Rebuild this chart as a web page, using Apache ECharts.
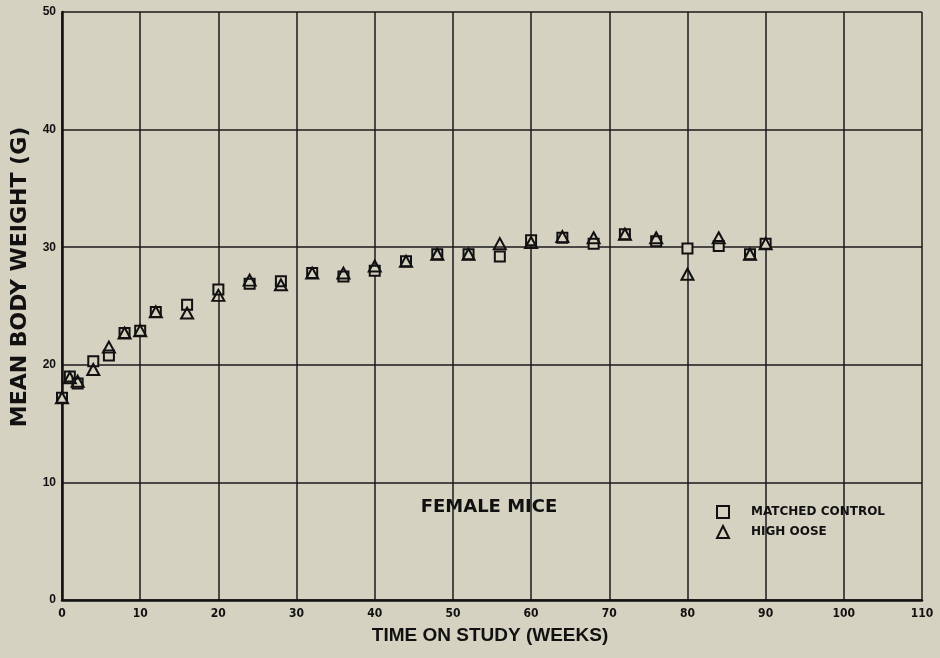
<!DOCTYPE html>
<html>
<head>
<meta charset="utf-8">
<script src="https://cdn.jsdelivr.net/npm/echarts@6/dist/echarts.min.js"></script>
<style>
html,body{margin:0;padding:0;background:#d6d2c1;}
#c{width:940px;height:658px;}
</style>
</head>
<body>
<div id="c"></div>
<script>
var weeks = [0, 1, 2, 4, 6, 8, 10, 12, 16, 20, 24, 28, 32, 36, 40, 44, 48, 52, 56, 60, 64, 68, 72, 76, 80, 84, 88, 90];
var matchedControl = [17.2, 19.0, 18.4, 20.3, 20.8, 22.7, 22.9, 24.5, 25.1, 26.4, 26.9, 27.1, 27.8, 27.5, 28.0, 28.8, 29.4, 29.4, 29.2, 30.6, 30.8, 30.3, 31.1, 30.5, 29.9, 30.1, 29.4, 30.3];
var highDose = [17.2, 18.9, 18.6, 19.6, 21.5, 22.7, 22.9, 24.5, 24.4, 25.9, 27.2, 26.8, 27.8, 27.8, 28.4, 28.8, 29.4, 29.4, 30.3, 30.4, 30.9, 30.8, 31.1, 30.8, 27.7, 30.8, 29.4, 30.3];
var xTicks = [0, 10, 20, 30, 40, 50, 60, 70, 80, 90, 100, 110];
var yTicks = [0, 10, 20, 30, 40, 50];

function pairs(xs, ys){ return xs.map(function(x,i){ return [x, ys[i]]; }); }

var bg = '#d6d2c1';
var lblFont = '"Liberation Sans Narrow", "DejaVu Sans Condensed", "Liberation Sans", sans-serif';
var chart = echarts.init(document.getElementById('c'));
chart.setOption({
  backgroundColor: bg,
  animation: false,
  grid: {left: 62, right: 18, top: 12, bottom: 58},
  xAxis: {
    type: 'value', min: 0, max: 110, interval: 10,
    axisLine: {show: true, lineStyle: {color: '#111', width: 2.5}},
    axisTick: {show: false},
    splitLine: {show: true, lineStyle: {color: '#1a1a1a', width: 1.5}},
    axisLabel: {color: '#111', fontSize: 12, fontWeight: 'bold', fontFamily: lblFont, margin: 8,
      formatter: function(v){ return xTicks.indexOf(v) >= 0 ? String(v) : ''; }}
  },
  yAxis: {
    type: 'value', min: 0, max: 50, interval: 10,
    axisLine: {show: true, lineStyle: {color: '#111', width: 2.5}},
    axisTick: {show: false},
    splitLine: {show: true, lineStyle: {color: '#1a1a1a', width: 1.5}},
    axisLabel: {color: '#111', fontSize: 12, fontWeight: 'bold', fontFamily: '"Liberation Sans", sans-serif', margin: 6,
      verticalAlign: 'middle', padding: [0, 0, 4, 0],
      formatter: function(v){ return yTicks.indexOf(v) >= 0 ? String(v) : ''; }}
  },
  legend: {
    orient: 'vertical', left: 711, top: 500, itemGap: 6, itemWidth: 12, itemHeight: 12,
    textStyle: {color: '#111', fontSize: 12, lineHeight: 14, fontWeight: 'bold', fontFamily: '"DejaVu Sans", sans-serif', padding: [0,0,0,17]},
    data: ['MATCHED CONTROL', 'HIGH OOSE']
  },
  graphic: [
    {type: 'text', x: 489, y: 507, style: {text: 'FEMALE MICE', fill: '#111', font: 'bold 18px "DejaVu Sans", sans-serif', align: 'center', verticalAlign: 'middle'}},
    {type: 'text', x: 490, y: 636, style: {text: 'TIME ON STUDY (WEEKS)', fill: '#111', font: 'bold 19px "Liberation Sans", sans-serif', align: 'center', verticalAlign: 'middle'}},
    {type: 'text', x: 20, y: 277, rotation: Math.PI/2, style: {text: 'MEAN BODY WEIGHT (G)', fill: '#111', font: 'bold 22px "DejaVu Sans", sans-serif', align: 'center', verticalAlign: 'middle'}}
  ],
  series: [
    {name: 'MATCHED CONTROL', type: 'scatter', symbol: 'rect', symbolSize: 10,
      itemStyle: {color: bg, borderColor: '#111', borderWidth: 2, opacity: 1},
      data: pairs(weeks, matchedControl), z: 3},
    {name: 'HIGH OOSE', type: 'scatter', symbol: 'triangle', symbolSize: [12, 11],
      itemStyle: {color: 'rgba(0,0,0,0)', borderColor: '#111', borderWidth: 2, opacity: 1},
      data: pairs(weeks, highDose), z: 4}
  ]
});
</script>
</body>
</html>
